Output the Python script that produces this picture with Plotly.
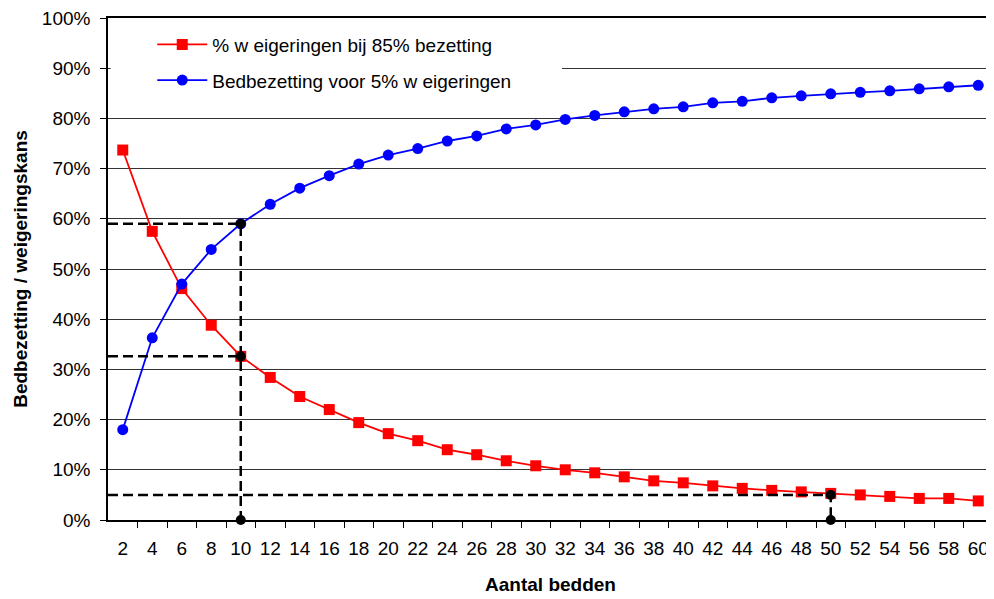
import plotly.graph_objects as go

# ---- data ----
beds = list(range(2, 61, 2))
weigering = [73.7, 57.5, 46.1, 38.8, 32.6, 28.4, 24.6, 22.0, 19.4, 17.2,
             15.8, 14.0, 13.0, 11.8, 10.8, 10.0, 9.4, 8.6, 7.8, 7.4,
             6.8, 6.3, 5.9, 5.6, 5.3, 5.0, 4.7, 4.3, 4.3, 3.8]
bezetting = [18.0, 36.3, 47.0, 53.9, 59.0, 62.9, 66.1, 68.6, 70.9, 72.7,
             74.0, 75.5, 76.5, 77.9, 78.7, 79.8, 80.6, 81.3, 81.9, 82.3,
             83.1, 83.4, 84.1, 84.5, 84.9, 85.2, 85.5, 85.9, 86.3, 86.6]
name_red = "% w eigeringen bij 85% bezetting"
name_blue = "Bedbezetting voor 5% w eigeringen"
example_beds = 10
target_beds = 50
target_refusal = 5.0
y_ticks = list(range(0, 101, 10))

x_range = [1, 61]
i_ex = beds.index(example_beds)
occ_ex = bezetting[i_ex]
ref_ex = weigering[i_ex]

FONT = "Liberation Sans, Arial, sans-serif"
dash = "10px,5px"

fig = go.Figure()
fig.add_trace(go.Scatter(x=beds, y=weigering, mode="lines+markers", name=name_red,
                         legendgroup="a",
                         line=dict(color="#ff0000", width=1.8),
                         marker=dict(symbol="square", size=11, color="#ff0000")))
fig.add_trace(go.Scatter(x=beds, y=bezetting, mode="lines+markers", name=name_blue,
                         legendgroup="b",
                         line=dict(color="#0000ff", width=1.8),
                         marker=dict(symbol="circle", size=11, color="#0000ff")))

# dashed guide lines
fig.add_trace(go.Scatter(x=[x_range[0], example_beds, example_beds], y=[occ_ex, occ_ex, 0],
                         mode="lines", showlegend=False, hoverinfo="skip",
                         line=dict(color="black", width=2.5, dash=dash)))
fig.add_trace(go.Scatter(x=[x_range[0], example_beds], y=[ref_ex, ref_ex],
                         mode="lines", showlegend=False, hoverinfo="skip",
                         line=dict(color="black", width=2.5, dash=dash)))
fig.add_trace(go.Scatter(x=[x_range[0], target_beds, target_beds], y=[target_refusal, target_refusal, 0],
                         mode="lines", showlegend=False, hoverinfo="skip",
                         line=dict(color="black", width=2.5, dash=dash)))
# black dots
fig.add_trace(go.Scatter(x=[example_beds, example_beds, example_beds, target_beds, target_beds],
                         y=[occ_ex, ref_ex, 0, target_refusal, 0],
                         mode="markers", showlegend=False, cliponaxis=False,
                         marker=dict(color="black", size=10)))

# white legend background hiding part of the 90% gridline
fig.add_shape(type="rect", xref="paper", yref="paper", x0=0.003, x1=0.513, y0=0.875, y1=0.925,
              fillcolor="white", line=dict(width=0), layer="above")

# the page body has an 8px margin, so the figure is shifted by 8px
fig.update_layout(
    width=986, height=591,
    margin=dict(l=100, r=1, t=10, b=79),
    paper_bgcolor="white", plot_bgcolor="white",
    font=dict(family=FONT, size=19, color="black"),
    showlegend=True,
    legend=dict(x=0.05, y=0.985, xanchor="left", yanchor="top",
                bgcolor="rgba(0,0,0,0)", traceorder="grouped", tracegroupgap=8,
                font=dict(size=19, family=FONT), itemwidth=50),
    xaxis=dict(range=x_range, tickmode="array", tickvals=beds, automargin=False,
               ticktext=[str(b) for b in beds], ticks="", showgrid=False, zeroline=False,
               showline=True, linecolor="black", linewidth=1.5, mirror=True,
               ticklabeloverflow="allow",
               minor=dict(tickvals=[b + 1 for b in beds[:-1]], ticks="outside", ticklen=6,
                          tickcolor="black", tickwidth=1, showgrid=False),
               ticklabelstandoff=10,
               title=dict(text="Aantal bedden", font=dict(size=19, weight="bold"), standoff=20)),
    yaxis=dict(range=[0, 100], tickmode="array", tickvals=y_ticks, automargin=False,
               ticktext=[f"{v}%" for v in y_ticks], ticks="outside", ticklen=6,
               tickcolor="black", showgrid=True, gridcolor="#333333", gridwidth=1,
               zeroline=False, showline=True, linecolor="black", linewidth=1.5, mirror=True,
               ticklabelstandoff=6, ticklabeloverflow="allow",
               title=dict(text="Bedbezetting / weigeringskans", font=dict(size=19, weight="bold"), standoff=9)),
)

fig.write_html("out.html")
